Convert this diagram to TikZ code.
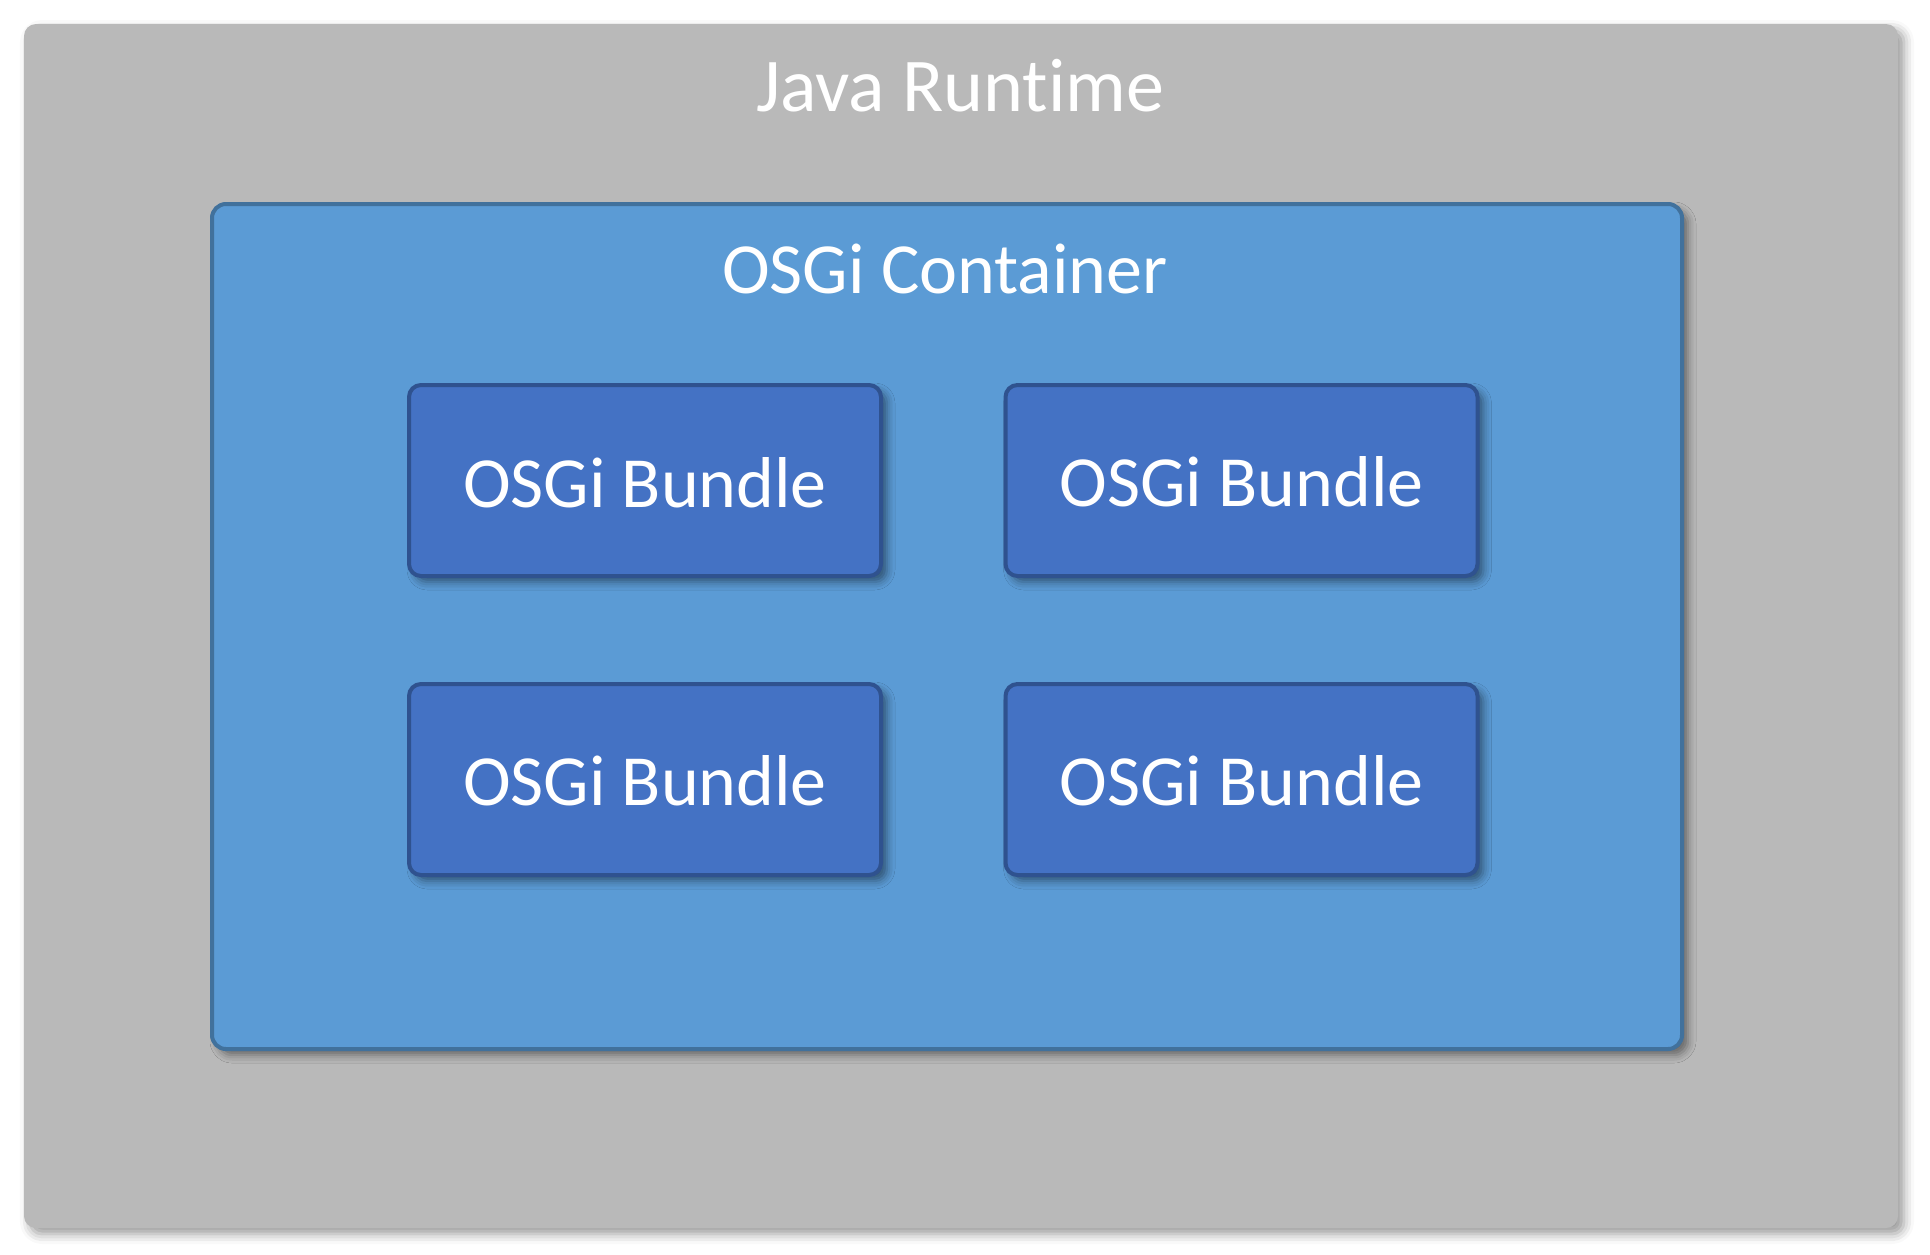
\documentclass[tikz,border=0pt]{standalone}
\usepackage{fontspec}
\setmainfont[Ligatures=NoCommon]{Carlito}
\usetikzlibrary{shadows.blur}
\definecolor{rtfill}{HTML}{B9B9B9}
\definecolor{ctfill}{HTML}{5B9BD5}
\definecolor{ctline}{HTML}{41719C}
\definecolor{bdfill}{HTML}{4472C4}
\definecolor{bdline}{HTML}{2F528F}
\tikzset{
  runtimebox/.style={fill=rtfill, draw=none, rounded corners=6pt, inner sep=0pt,
    blur shadow={shadow xshift=3pt, shadow yshift=-3pt, shadow blur radius=5pt, shadow opacity=40}},
  containerbox/.style={fill=ctfill, draw=ctline, line width=2pt, rounded corners=7pt, inner sep=0pt,
    blur shadow={shadow xshift=3pt, shadow yshift=-3pt, shadow blur radius=4pt, shadow opacity=45}},
  bundlebox/.style={fill=bdfill, draw=bdline, line width=2pt, rounded corners=6pt, inner sep=0pt,
    minimum width=236pt, minimum height=95.5pt,
    blur shadow={shadow xshift=3pt, shadow yshift=-3pt, shadow blur radius=4pt, shadow opacity=45}},
  lbl/.style={text=white, font=\fontsize{36}{40}\selectfont, anchor=base, inner sep=0pt},
  biglbl/.style={lbl, font=\fontsize{38}{42}\selectfont},
}
\begin{document}
\begin{tikzpicture}[x=0.5pt, y=-0.5pt]
\useasboundingbox (0,0) rectangle (1930,1254);
\node[runtimebox, minimum width=937pt, minimum height=602pt] (runtime) at (961,626) {};
\node[containerbox, minimum width=735pt, minimum height=422.5pt] (container) at (947,626.5) {};
\node[bundlebox] (b1) at (645,480.5) {};
\node[bundlebox] (b2) at (1241.5,480.5) {};
\node[bundlebox] (b3) at (645,779.5) {};
\node[bundlebox] (b4) at (1241.5,779.5) {};
\node[biglbl] (rtlabel) at (960,111) {Java Runtime};
\node[lbl] (ctlabel) at (945,293) {OSGi Container};
\node[lbl] (b1label) at (645,507) {OSGi Bundle};
\node[lbl] (b2label) at (1241.5,506) {OSGi Bundle};
\node[lbl] (b3label) at (645,805) {OSGi Bundle};
\node[lbl] (b4label) at (1241.5,805) {OSGi Bundle};
\end{tikzpicture}
\end{document}
